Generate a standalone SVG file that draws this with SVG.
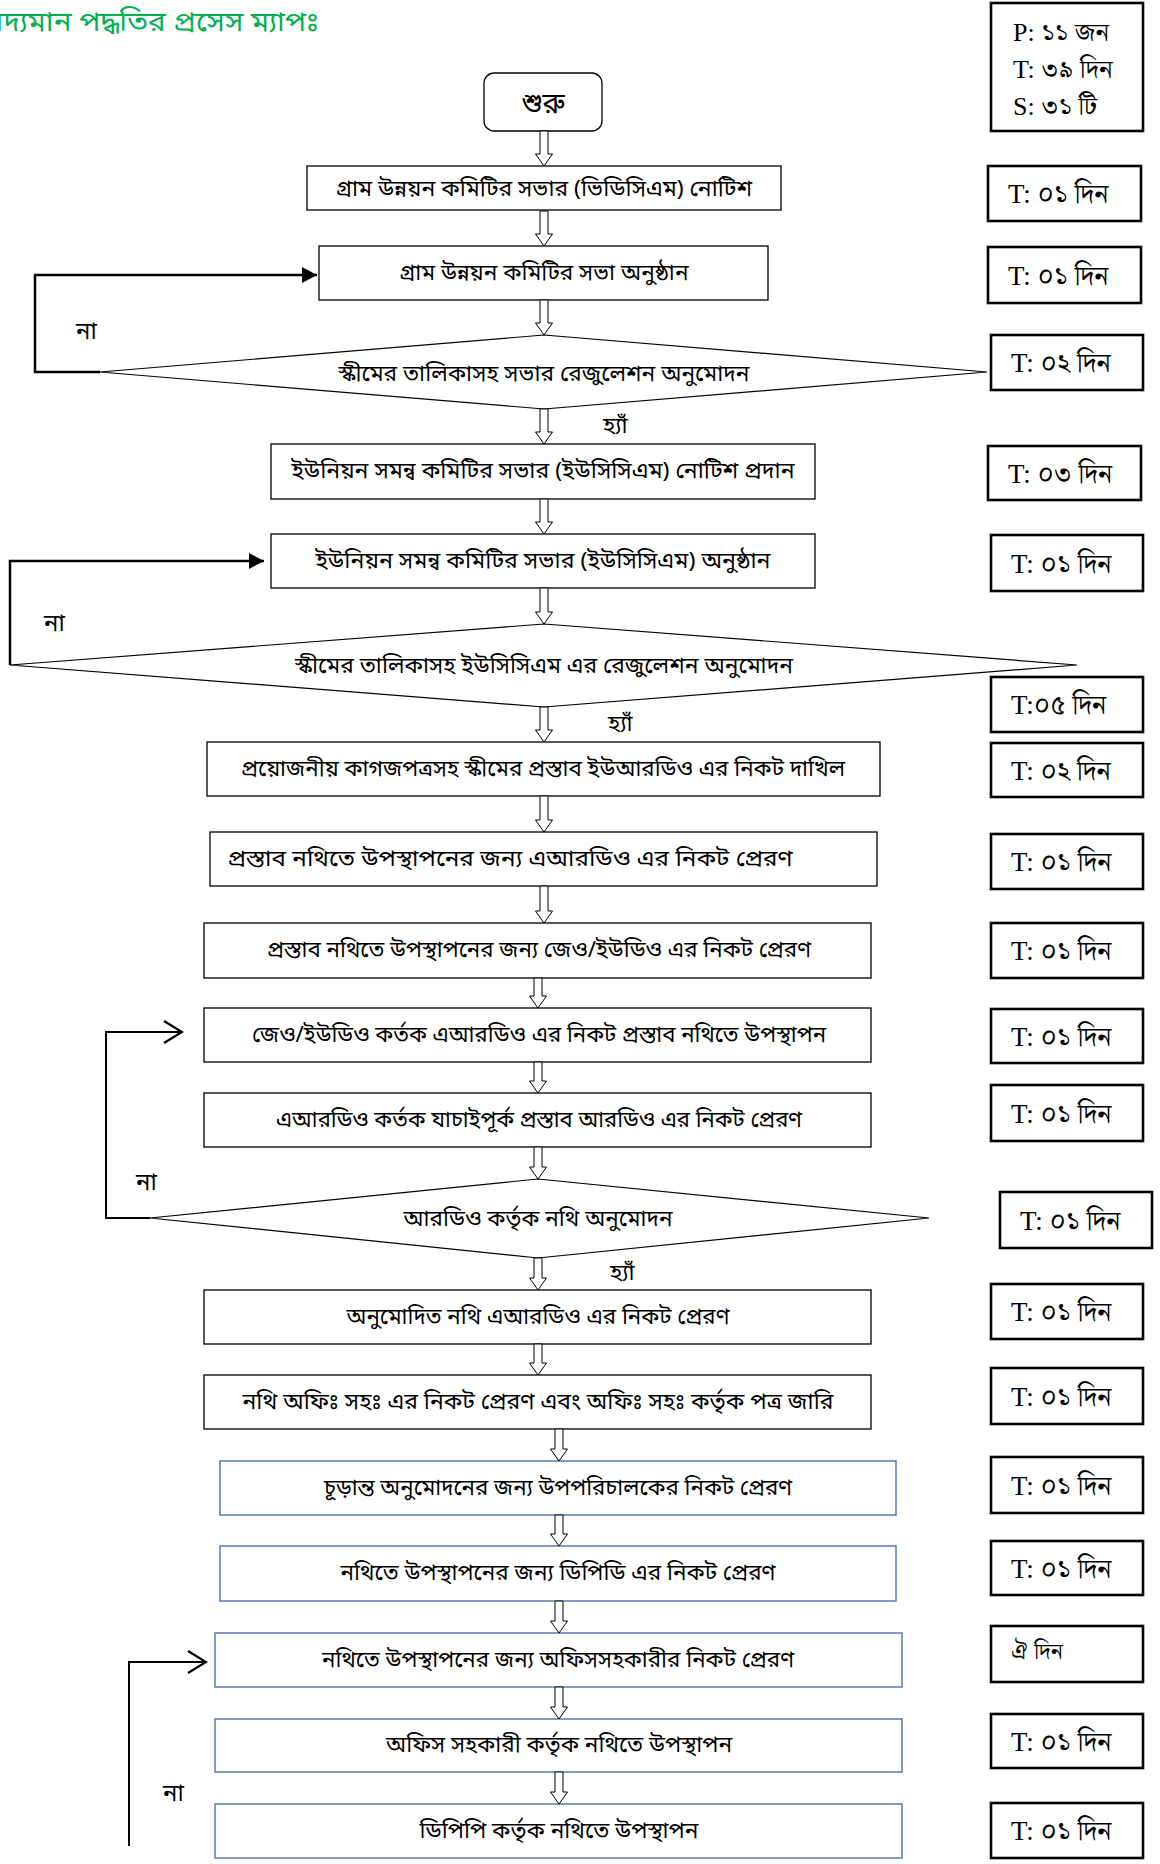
<svg xmlns="http://www.w3.org/2000/svg" width="1160" height="1864" viewBox="0 0 1160 1864">
<style>
.box{fill:#fff;stroke:#000;stroke-width:1.3}
.bbox{fill:#fff;stroke:#4F6FA8;stroke-width:1.4}
.tbox{fill:#fff;stroke:#000;stroke-width:2.6}
.dia{fill:#fff;stroke:#000;stroke-width:1.2}
.bn{font-family:"Noto Sans Bengali","Noto Serif Bengali","Lohit Bengali","FreeSans",sans-serif;font-size:22px;fill:#000}
.mid{text-anchor:middle}
.tt{font-family:"Liberation Serif","Noto Serif Bengali","Noto Sans Bengali","FreeSerif",serif;font-size:27px;fill:#000}
.blk{fill:#fff;stroke:#000;stroke-width:1}
.loop{fill:none;stroke:#000;stroke-width:2.5}
.loop2{fill:none;stroke:#000;stroke-width:2}
</style>
<defs>
<marker id="tri" markerWidth="16" markerHeight="16" refX="15" refY="8" orient="auto" markerUnits="userSpaceOnUse">
<path d="M0,0 L15,8 L0,16 Z" fill="#000"/>
</marker>
<marker id="chev" markerWidth="22" markerHeight="26" refX="20" refY="13" orient="auto" markerUnits="userSpaceOnUse">
<path d="M2,2 L20,13 L2,24" fill="none" stroke="#000" stroke-width="2.2"/>
</marker>
</defs>

<text x="-22" y="31" font-family="Noto Sans Bengali,Noto Serif Bengali,Lohit Bengali,FreeSans,sans-serif" font-size="27" fill="#00B050" textLength="341" lengthAdjust="spacingAndGlyphs">বিদ্যমান পদ্ধতির প্রসেস ম্যাপঃ</text>

<g id="start"><rect x="484" y="73" width="118" height="58" rx="10" class="box"/><text x="543" y="113" class="bn mid" style="font-size:28px">শুরু</text></g>

<g id="b1"><rect x="307" y="166" width="474" height="44" class="box"/><text x="544" y="196" class="bn mid" textLength="416" lengthAdjust="spacingAndGlyphs">গ্রাম উন্নয়ন কমিটির সভার (ভিডিসিএম) নোটিশ</text></g>
<g id="b2"><rect x="319" y="246" width="449" height="54" class="box"/><text x="544" y="280" class="bn mid" textLength="289" lengthAdjust="spacingAndGlyphs">গ্রাম উন্নয়ন কমিটির সভা অনুষ্ঠান</text></g>
<g id="d1"><polygon points="100,372 544,335 987,372 544,409" class="dia"/><text x="544" y="381" class="bn mid" textLength="411" lengthAdjust="spacingAndGlyphs">স্কীমের তালিকাসহ সভার রেজুলেশন অনুমোদন</text></g>
<g id="b3"><rect x="271" y="444" width="544" height="55" class="box"/><text x="543" y="478" class="bn mid" textLength="503" lengthAdjust="spacingAndGlyphs">ইউনিয়ন সমন্ব কমিটির সভার (ইউসিসিএম) নোটিশ প্রদান</text></g>
<g id="b4"><rect x="271" y="534" width="544" height="54" class="box"/><text x="543" y="568" class="bn mid" textLength="455" lengthAdjust="spacingAndGlyphs">ইউনিয়ন সমন্ব কমিটির সভার (ইউসিসিএম) অনুষ্ঠান</text></g>
<g id="d2"><polygon points="10,665 544,624 1077,665 544,707" class="dia"/><text x="544" y="673" class="bn mid" textLength="498" lengthAdjust="spacingAndGlyphs">স্কীমের তালিকাসহ ইউসিসিএম এর রেজুলেশন অনুমোদন</text></g>
<g id="b5"><rect x="207" y="742" width="673" height="54" class="box"/><text x="543" y="776" class="bn mid" textLength="604" lengthAdjust="spacingAndGlyphs">প্রয়োজনীয় কাগজপত্রসহ স্কীমের প্রস্তাব ইউআরডিও এর নিকট দাখিল</text></g>
<g id="b6"><rect x="210" y="832" width="667" height="54" class="box"/><text x="510" y="866" class="bn mid" textLength="565" lengthAdjust="spacingAndGlyphs">প্রস্তাব নথিতে উপস্থাপনের জন্য এআরডিও এর নিকট প্রেরণ</text></g>
<g id="b7"><rect x="204" y="923" width="667" height="55" class="box"/><text x="539" y="957" class="bn mid" textLength="544" lengthAdjust="spacingAndGlyphs">প্রস্তাব নথিতে উপস্থাপনের জন্য জেও/ইউডিও এর নিকট প্রেরণ</text></g>
<g id="b8"><rect x="204" y="1008" width="667" height="54" class="box"/><text x="539" y="1042" class="bn mid" textLength="574" lengthAdjust="spacingAndGlyphs">জেও/ইউডিও কর্তক এআরডিও এর নিকট প্রস্তাব নথিতে উপস্থাপন</text></g>
<g id="b9"><rect x="204" y="1093" width="667" height="54" class="box"/><text x="539" y="1127" class="bn mid" textLength="526" lengthAdjust="spacingAndGlyphs">এআরডিও কর্তক যাচাইপূর্ক প্রস্তাব আরডিও এর নিকট প্রেরণ</text></g>
<g id="d3"><polygon points="150,1218 538,1179 929,1218 538,1258" class="dia"/><text x="538" y="1226" class="bn mid" textLength="269" lengthAdjust="spacingAndGlyphs">আরডিও কর্তৃক নথি অনুমোদন</text></g>
<g id="b10"><rect x="204" y="1290" width="667" height="54" class="box"/><text x="538" y="1324" class="bn mid" textLength="383" lengthAdjust="spacingAndGlyphs">অনুমোদিত নথি এআরডিও এর নিকট প্রেরণ</text></g>
<g id="b11"><rect x="204" y="1375" width="667" height="54" class="box"/><text x="538" y="1409" class="bn mid" textLength="591" lengthAdjust="spacingAndGlyphs">নথি অফিঃ সহঃ এর নিকট প্রেরণ এবং অফিঃ সহঃ কর্তৃক পত্র জারি</text></g>
<g id="b12"><rect x="220" y="1461" width="676" height="54" class="bbox"/><text x="558" y="1495" class="bn mid" textLength="468" lengthAdjust="spacingAndGlyphs">চূড়ান্ত অনুমোদনের জন্য উপপরিচালকের নিকট প্রেরণ</text></g>
<g id="b13"><rect x="220" y="1546" width="676" height="55" class="bbox"/><text x="558" y="1580" class="bn mid" textLength="435" lengthAdjust="spacingAndGlyphs">নথিতে উপস্থাপনের জন্য ডিপিডি এর নিকট প্রেরণ</text></g>
<g id="b14"><rect x="215" y="1633" width="687" height="54" class="bbox"/><text x="558" y="1667" class="bn mid" textLength="472" lengthAdjust="spacingAndGlyphs">নথিতে উপস্থাপনের জন্য অফিসসহকারীর নিকট প্রেরণ</text></g>
<g id="b15"><rect x="215" y="1719" width="687" height="53" class="bbox"/><text x="559" y="1752" class="bn mid" textLength="346" lengthAdjust="spacingAndGlyphs">অফিস সহকারী কর্তৃক নথিতে উপস্থাপন</text></g>
<g id="b16"><rect x="215" y="1804" width="687" height="54" class="bbox"/><text x="559" y="1838" class="bn mid" textLength="279" lengthAdjust="spacingAndGlyphs">ডিপিপি কর্তৃক নথিতে উপস্থাপন</text></g>

<g id="summary"><rect x="991" y="3" width="152" height="128" class="tbox"/>
<text x="1013" y="41" class="tt" style="font-size:26px">P: ১১ জন</text>
<text x="1013" y="78" class="tt" style="font-size:26px">T: ৩৯ দিন</text>
<text x="1013" y="115" class="tt" style="font-size:26px">S: ৩১ টি</text></g>

<g id="t1"><rect x="988" y="166" width="153" height="55" class="tbox"/><text x="1008" y="203" class="tt">T: ০১ দিন</text></g>
<g id="t2"><rect x="988" y="247" width="153" height="56" class="tbox"/><text x="1008" y="285" class="tt">T: ০১ দিন</text></g>
<g id="t3"><rect x="991" y="335" width="152" height="55" class="tbox"/><text x="1011" y="372" class="tt">T: ০২ দিন</text></g>
<g id="t4"><rect x="988" y="446" width="153" height="54" class="tbox"/><text x="1008" y="483" class="tt">T: ০৩ দিন</text></g>
<g id="t5"><rect x="991" y="535" width="152" height="56" class="tbox"/><text x="1011" y="573" class="tt">T: ০১ দিন</text></g>
<g id="t6"><rect x="991" y="677" width="152" height="55" class="tbox"/><text x="1011" y="714" class="tt">T:০৫ দিন</text></g>
<g id="t7"><rect x="991" y="743" width="152" height="54" class="tbox"/><text x="1011" y="780" class="tt">T: ০২ দিন</text></g>
<g id="t8"><rect x="991" y="834" width="152" height="55" class="tbox"/><text x="1011" y="871" class="tt">T: ০১ দিন</text></g>
<g id="t9"><rect x="991" y="923" width="152" height="55" class="tbox"/><text x="1011" y="960" class="tt">T: ০১ দিন</text></g>
<g id="t10"><rect x="991" y="1009" width="152" height="54" class="tbox"/><text x="1011" y="1046" class="tt">T: ০১ দিন</text></g>
<g id="t11"><rect x="991" y="1085" width="152" height="56" class="tbox"/><text x="1011" y="1123" class="tt">T: ০১ দিন</text></g>
<g id="t12"><rect x="1000" y="1192" width="152" height="56" class="tbox"/><text x="1020" y="1230" class="tt">T: ০১ দিন</text></g>
<g id="t13"><rect x="991" y="1284" width="152" height="55" class="tbox"/><text x="1011" y="1321" class="tt">T: ০১ দিন</text></g>
<g id="t14"><rect x="991" y="1368" width="152" height="56" class="tbox"/><text x="1011" y="1406" class="tt">T: ০১ দিন</text></g>
<g id="t15"><rect x="991" y="1457" width="152" height="56" class="tbox"/><text x="1011" y="1495" class="tt">T: ০১ দিন</text></g>
<g id="t16"><rect x="991" y="1541" width="152" height="54" class="tbox"/><text x="1011" y="1578" class="tt">T: ০১ দিন</text></g>
<g id="t17"><rect x="991" y="1626" width="152" height="56" class="tbox"/><text x="1011" y="1659" class="tt" style="font-size:23px">ঐ দিন</text></g>
<g id="t18"><rect x="991" y="1714" width="152" height="54" class="tbox"/><text x="1011" y="1751" class="tt">T: ০১ দিন</text></g>
<g id="t19"><rect x="991" y="1803" width="152" height="55" class="tbox"/><text x="1011" y="1840" class="tt">T: ০১ দিন</text></g>

<g id="connectors">
<path class="blk" d="M540,131 H548 V154 H552.5 L544,166 L535.5,154 H540 Z"/>
<path class="blk" d="M540,211 H548 V234 H552.5 L544,246 L535.5,234 H540 Z"/>
<path class="blk" d="M540,300 H548 V323 H552.5 L544,335 L535.5,323 H540 Z"/>
<path class="blk" d="M540,409 H548 V432 H552.5 L544,444 L535.5,432 H540 Z"/>
<path class="blk" d="M540,499 H548 V522 H552.5 L544,534 L535.5,522 H540 Z"/>
<path class="blk" d="M540,588 H548 V612 H552.5 L544,624 L535.5,612 H540 Z"/>
<path class="blk" d="M540,707 H548 V730 H552.5 L544,742 L535.5,730 H540 Z"/>
<path class="blk" d="M540,796 H548 V820 H552.5 L544,832 L535.5,820 H540 Z"/>
<path class="blk" d="M540,886 H548 V911 H552.5 L544,923 L535.5,911 H540 Z"/>
<path class="blk" d="M534,978 H542 V996 H546.5 L538,1008 L529.5,996 H534 Z"/>
<path class="blk" d="M534,1062 H542 V1081 H546.5 L538,1093 L529.5,1081 H534 Z"/>
<path class="blk" d="M534,1147 H542 V1167 H546.5 L538,1179 L529.5,1167 H534 Z"/>
<path class="blk" d="M534,1258 H542 V1278 H546.5 L538,1290 L529.5,1278 H534 Z"/>
<path class="blk" d="M534,1344 H542 V1363 H546.5 L538,1375 L529.5,1363 H534 Z"/>
<path class="blk" d="M555,1429 H563 V1449 H567.5 L559,1461 L550.5,1449 H555 Z"/>
<path class="blk" d="M555,1515 H563 V1534 H567.5 L559,1546 L550.5,1534 H555 Z"/>
<path class="blk" d="M555,1601 H563 V1621 H567.5 L559,1633 L550.5,1621 H555 Z"/>
<path class="blk" d="M555,1687 H563 V1707 H567.5 L559,1719 L550.5,1707 H555 Z"/>
<path class="blk" d="M555,1772 H563 V1792 H567.5 L559,1804 L550.5,1792 H555 Z"/>
<path class="loop" d="M100,372 H35 V275 H317" marker-end="url(#tri)"/>
<path class="loop" d="M10,665 V561 H264" marker-end="url(#tri)"/>
<path class="loop2" d="M150,1218 H106 V1032 H182" marker-end="url(#chev)"/>
<path class="loop2" d="M129,1846 V1662 H206" marker-end="url(#chev)"/>
<text x="76" y="339" class="bn" style="font-size:24px">না</text>
<text x="44" y="631" class="bn" style="font-size:24px">না</text>
<text x="136" y="1190" class="bn" style="font-size:24px">না</text>
<text x="163" y="1801" class="bn" style="font-size:24px">না</text>
<text x="603" y="433" class="bn" style="font-size:23px">হ্যাঁ</text>
<text x="608" y="731" class="bn" style="font-size:23px">হ্যাঁ</text>
<text x="610" y="1280" class="bn" style="font-size:23px">হ্যাঁ</text>
</g>
</svg>
